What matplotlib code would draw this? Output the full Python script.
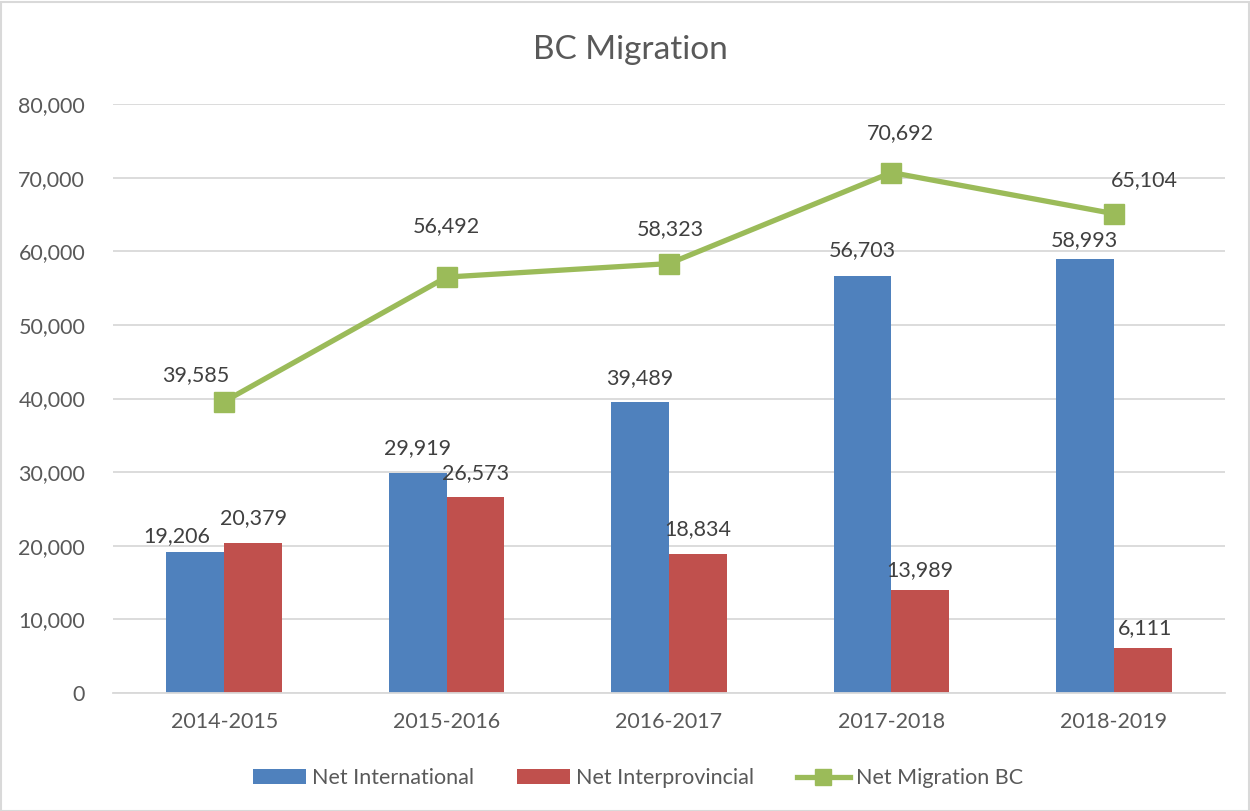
import matplotlib
matplotlib.use("Agg")
import matplotlib.pyplot as plt
import numpy as np
from matplotlib.patches import Rectangle

categories = ["2014-2015", "2015-2016", "2016-2017", "2017-2018", "2018-2019"]
net_international = [19206, 29919, 39489, 56703, 58993]
net_interprovincial = [20379, 26573, 18834, 13989, 6111]
net_migration_bc = [39585, 56492, 58323, 70692, 65104]
yticks = [0, 10000, 20000, 30000, 40000, 50000, 60000, 70000, 80000]

# label offsets (pixels): (dx, dy) relative to the data point
intl_off = [(-19, 16), (0, 25), (0, 24), (0, 25), (0, 19)]
inter_off = [(0, 25), (0, 24), (0, 25), (0, 20), (2, 20)]
mig_off = [(-28, 26), (0, 51), (1, 35), (9, 39), (31, 34)]

plt.rcParams['font.family'] = ['Lato', 'DejaVu Sans']

W, H = 1250, 811
fig = plt.figure(figsize=(W / 100, H / 100), dpi=100)
fig.patch.set_facecolor("white")
ax = fig.add_axes([113 / W, (H - 693) / H, (1225 - 113) / W, (693 - 104) / H])

blue = "#4F81BD"
red = "#C0504D"
green = "#9BBB59"
tick_color = "#595959"
label_color = "#404040"
grid_color = "#D9D9D9"

x = np.arange(len(categories))
bw = 0.26
b1 = ax.bar(x - bw / 2, net_international, bw, color=blue, label="Net International", zorder=2)
b2 = ax.bar(x + bw / 2, net_interprovincial, bw, color=red, label="Net Interprovincial", zorder=2)
l1, = ax.plot(x, net_migration_bc, color=green, lw=3.8, marker="s", markersize=15,
              label="Net Migration BC", zorder=3)

px = 72 / 100  # pixel to points
for i in range(len(x)):
    ax.annotate(f"{net_international[i]:,}", (x[i] - bw / 2, net_international[i]),
                xytext=(intl_off[i][0] * px, intl_off[i][1] * px), textcoords="offset points",
                ha="center", va="center", fontsize=15.5, color=label_color)
    ax.annotate(f"{net_interprovincial[i]:,}", (x[i] + bw / 2, net_interprovincial[i]),
                xytext=(inter_off[i][0] * px, inter_off[i][1] * px), textcoords="offset points",
                ha="center", va="center", fontsize=15.5, color=label_color)
    ax.annotate(f"{net_migration_bc[i]:,}", (x[i], net_migration_bc[i]),
                xytext=(mig_off[i][0] * px, mig_off[i][1] * px), textcoords="offset points",
                ha="center", va="center", fontsize=15.5, color=label_color)

ax.set_xlim(-0.5, len(categories) - 0.5)
ax.set_ylim(0, 80000)
ax.set_yticks(yticks)
ax.set_yticklabels([f"{v:,}" for v in yticks])
ax.set_xticks(x)
ax.set_xticklabels(categories)
ax.tick_params(axis="both", length=0, labelsize=15.5, colors=tick_color)
ax.tick_params(axis="y", pad=20)
ax.tick_params(axis="x", pad=14)
ax.yaxis.grid(True, color=grid_color, lw=1.3, zorder=0)
ax.set_axisbelow(True)
for s in ["top", "right", "left"]:
    ax.spines[s].set_visible(False)
ax.spines["bottom"].set_color(grid_color)
ax.spines["bottom"].set_linewidth(1.3)

fig.text(630 / W, 1 - 50 / H, "BC Migration", ha="center", va="center",
         fontsize=24, color=tick_color)

leg = fig.legend([b1, b2, l1], ["Net International", "Net Interprovincial", "Net Migration BC"],
                 loc="center", bbox_to_anchor=(638 / W, 1 - 778 / H), ncol=3, frameon=False,
                 fontsize=15.5, handlelength=2.45, handleheight=0.65, handletextpad=0.28,
                 columnspacing=2.0, labelcolor=tick_color, borderpad=0)
for h in leg.legend_handles:
    if hasattr(h, "set_markersize"):
        h.set_markersize(12)

fig.patches.append(Rectangle((0.5 / W, 0.5 / H), 1 - 2 / W, 1 - 2 / H, transform=fig.transFigure,
                             fill=False, edgecolor="#D9D9D9", lw=1.5))

fig.savefig("out.png", dpi=100)
